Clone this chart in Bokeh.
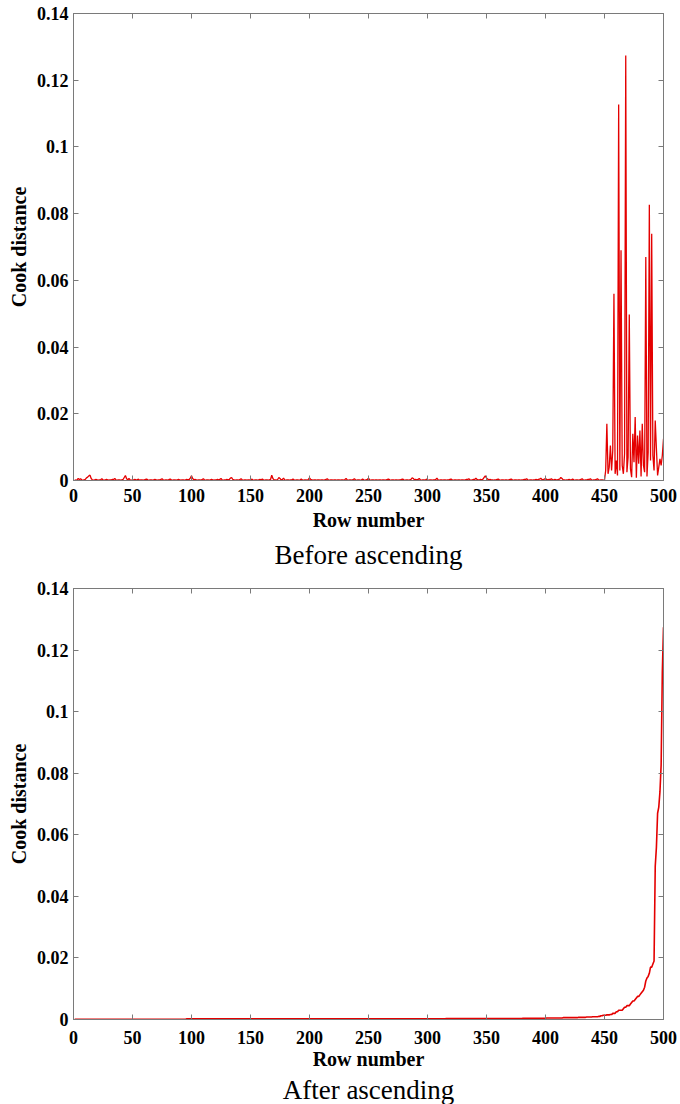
from bokeh.plotting import figure
from bokeh.models import Range1d, FixedTicker, LinearAxis, Title, CustomJSTickFormatter
from bokeh.layouts import column
from bokeh.embed import file_html
from bokeh.resources import INLINE

# ---------------- data ----------------
row_number = list(range(1, 501))

# Cook distance per row, in units of 1e-4 (rows 1..450)
cook_rows_1_450_e4 = [
    2, 1, 2, 6, 3, 5, 2, 1, 2, 3, 8, 10, 14, 16, 6, 2, 1, 2, 3, 2, 1, 2, 2, 5, 2,
    1, 2, 3, 2, 1, 2, 2, 3, 3, 6, 2, 1, 2, 2, 1, 2, 3, 9, 15, 5, 2, 6, 2, 1, 2,
    2, 3, 2, 2, 4, 1, 2, 2, 1, 2, 3, 4, 2, 1, 2, 2, 1, 2, 3, 2, 1, 2, 2, 3, 5,
    2, 1, 2, 2, 1, 3, 4, 2, 1, 2, 2, 1, 2, 3, 2, 1, 2, 2, 1, 2, 3, 2, 3, 7, 14,
    6, 2, 3, 2, 1, 2, 2, 1, 3, 5, 2, 1, 2, 2, 1, 2, 3, 2, 1, 2, 2, 3, 2, 3, 6,
    2, 1, 2, 2, 3, 2, 3, 7, 9, 3, 2, 1, 2, 2, 1, 3, 5, 2, 1, 2, 2, 1, 2, 2, 1,
    4, 2, 1, 2, 2, 1, 2, 3, 2, 4, 2, 1, 2, 2, 1, 2, 3, 16, 6, 2, 2, 1, 3, 9, 6,
    2, 3, 7, 2, 1, 2, 2, 1, 2, 2, 4, 2, 1, 2, 2, 1, 2, 4, 2, 1, 2, 2, 1, 3, 8,
    3, 2, 1, 2, 2, 1, 2, 2, 1, 2, 2, 1, 2, 3, 5, 2, 1, 2, 2, 1, 2, 2, 1, 2, 2,
    1, 2, 2, 1, 3, 6, 2, 1, 2, 2, 1, 3, 5, 2, 1, 2, 2, 1, 2, 4, 2, 1, 2, 3, 7,
    2, 1, 2, 2, 1, 2, 2, 1, 2, 2, 1, 2, 2, 1, 2, 3, 4, 2, 1, 2, 2, 1, 2, 2, 1,
    2, 2, 3, 4, 2, 1, 2, 2, 1, 2, 3, 8, 6, 2, 3, 2, 3, 6, 2, 1, 2, 2, 1, 4, 2,
    1, 2, 2, 1, 2, 2, 3, 7, 2, 1, 2, 2, 1, 2, 2, 1, 2, 2, 3, 4, 2, 1, 2, 2, 1,
    2, 2, 1, 2, 2, 1, 2, 3, 3, 5, 2, 1, 2, 3, 3, 7, 3, 2, 2, 3, 2, 4, 9, 14, 8,
    4, 2, 3, 2, 2, 1, 2, 2, 3, 4, 2, 1, 2, 2, 1, 2, 2, 1, 2, 3, 4, 2, 1, 2, 2,
    1, 2, 2, 1, 2, 2, 3, 3, 5, 2, 1, 2, 2, 1, 2, 2, 3, 2, 3, 4, 7, 3, 2, 4, 6,
    3, 2, 3, 3, 5, 2, 2, 3, 2, 2, 3, 4, 9, 6, 2, 2, 1, 2, 2, 3, 2, 2, 4, 2, 1,
    2, 2, 1, 2, 3, 5, 2, 1, 2, 2, 3, 3, 5, 2, 1, 2, 2, 3, 5, 2, 1, 2, 2, 1, 1,
]

# Cook distance per row, in units of 1e-4 (rows 451..500)
cook_rows_451_500_e4 = [
    30, 170, 20, 40, 105, 30, 90, 560, 20, 60,
    15, 1127, 30, 690, 45, 20, 80, 1274, 25, 70,
    498, 35, 10, 140, 55, 190, 8, 135, 50, 150,
    12, 170, 45, 25, 670, 12, 85, 827, 60, 740,
    75, 30, 180, 95, 15, 40, 65, 45, 75, 125,
]

cook_before = [v / 10000 for v in cook_rows_1_450_e4 + cook_rows_451_500_e4]
cook_after = sorted(cook_before)

x_ticks = [0, 50, 100, 150, 200, 250, 300, 350, 400, 450, 500]
y_ticks = [0, 0.02, 0.04, 0.06, 0.08, 0.1, 0.12, 0.14]
x_label = "Row number"
y_label = "Cook distance"
panel_titles = ["Before ascending", "After ascending"]

# ---------------- style ----------------
SERIF = "Liberation Serif"
GRAY = "#7a7a7a"
RED = "#e40000"


def make_panel(yvals, title, height, border_left, border_right, border_top,
               border_bottom, lw, tick_standoff, label_standoff, title_standoff):
    p = figure(width=680, height=height,
               x_range=Range1d(0, 500), y_range=Range1d(0, 0.14),
               output_backend="svg", toolbar_location=None,
               min_border_left=border_left, min_border_right=border_right,
               min_border_top=border_top, min_border_bottom=border_bottom,
               background_fill_color="white", border_fill_color="white")
    p.line(row_number, yvals, line_color=RED, line_width=lw)
    p.xgrid.visible = False
    p.ygrid.visible = False
    p.outline_line_color = GRAY
    p.outline_line_width = 1

    yfmt = CustomJSTickFormatter(
        code="return tick === 0 ? '0' : String(Number(tick.toFixed(2)));")
    blank = CustomJSTickFormatter(code="return '';")

    for ax in (p.xaxis[0], p.yaxis[0]):
        ax.axis_line_color = GRAY
        ax.major_tick_line_color = GRAY
        ax.major_tick_in = 5
        ax.major_tick_out = 0
        ax.minor_tick_line_color = None
        ax.major_label_text_font = SERIF
        ax.major_label_text_font_style = "bold"
        ax.major_label_text_font_size = "18px"
        ax.major_label_text_color = "black"
        ax.axis_label_text_font = SERIF
        ax.axis_label_text_font_style = "bold"
        ax.axis_label_text_font_size = "20px"
        ax.axis_label_text_color = "black"

    p.xaxis[0].ticker = FixedTicker(ticks=x_ticks)
    p.xaxis[0].major_label_standoff = tick_standoff
    p.xaxis[0].axis_label = x_label
    p.xaxis[0].axis_label_standoff = label_standoff
    p.yaxis[0].ticker = FixedTicker(ticks=y_ticks)
    p.yaxis[0].formatter = yfmt
    p.yaxis[0].major_label_standoff = 5
    p.yaxis[0].axis_label = y_label
    p.yaxis[0].axis_label_standoff = 4

    top = LinearAxis(ticker=FixedTicker(ticks=x_ticks), formatter=blank)
    right = LinearAxis(ticker=FixedTicker(ticks=y_ticks), formatter=blank)
    for ax in (top, right):
        ax.axis_line_color = GRAY
        ax.major_tick_line_color = GRAY
        ax.major_tick_in = 5
        ax.major_tick_out = 0
        ax.minor_tick_line_color = None
        ax.major_label_standoff = 0
        ax.major_label_text_font_size = "1px"
    p.add_layout(top, "above")
    p.add_layout(right, "right")

    p.add_layout(Title(text=title, align="center", text_font=SERIF,
                       text_font_size="27px", text_font_style="normal",
                       text_color="black", standoff=title_standoff), "below")
    return p


p1 = make_panel(cook_before, panel_titles[0], 578, 72, 17, 13, 98, 1.3, 8, 4, 9)
p2 = make_panel(cook_after, panel_titles[1], 526, 73, 14, 10, 84, 1.6, 11, 1, 0)

layout = column(p1, p2, spacing=0)
open("out.html", "w").write(file_html(layout, INLINE))
